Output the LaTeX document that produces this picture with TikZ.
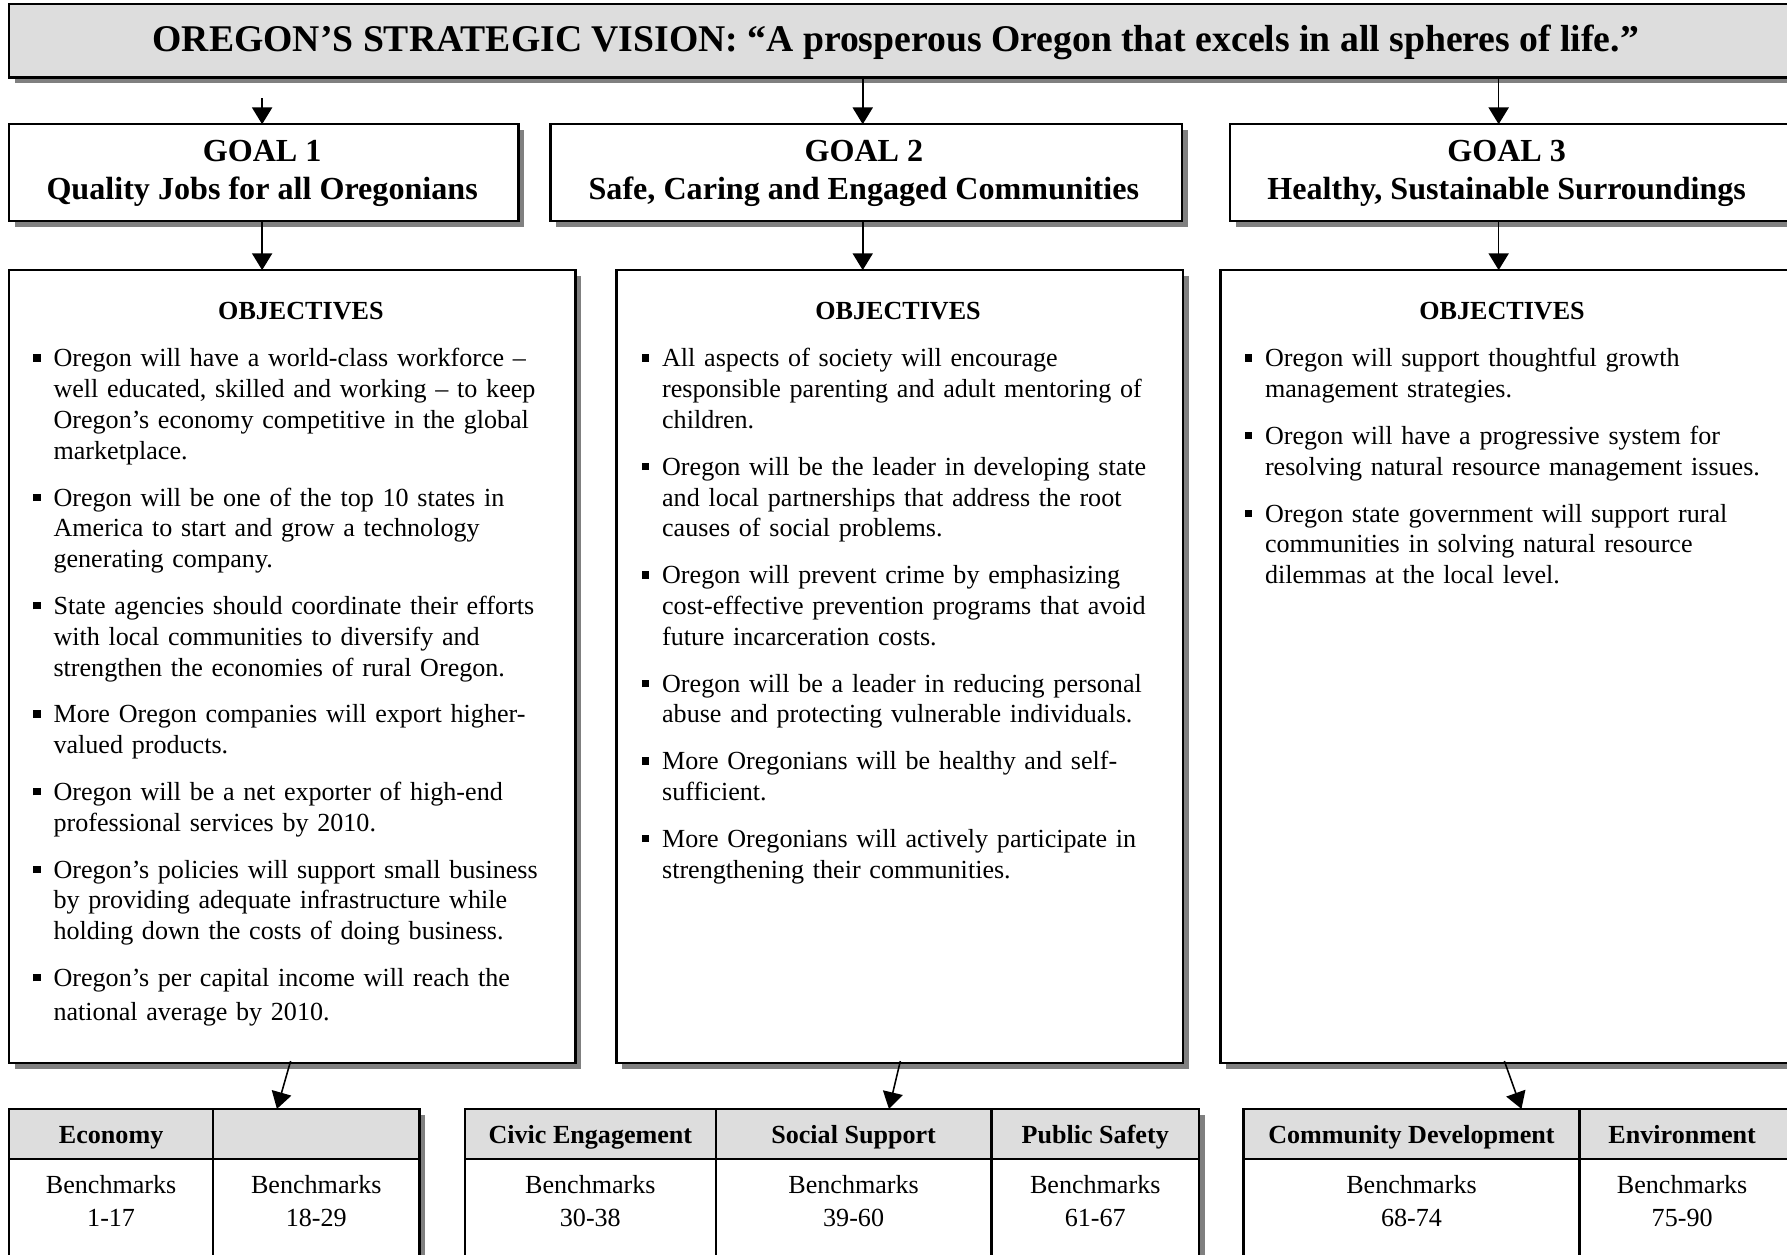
\documentclass[tikz,border=0pt]{standalone}
\usepackage{fontspec}
\setmainfont{Liberation Serif}
\usetikzlibrary{fit,shadows,arrows.meta}
\definecolor{hdrgray}{RGB}{221,221,221}
\definecolor{shgray}{RGB}{128,128,128}
\newcommand{\bsq}{\leavevmode\llap{\rule[2.3pt]{3.3pt}{3.3pt}\hspace{5.8pt}}}
\begin{document}
\begin{tikzpicture}[x=0.511pt,y=-0.511pt,
  every node/.style={inner sep=0pt,outer sep=0pt},
  sh/.style={drop shadow={shadow xshift=2.6pt,shadow yshift=-2.6pt,fill=shgray,opacity=1}},
  box/.style={draw,line width=1pt,fill=white,sh},
  arr/.style={line width=0.7pt,-{Triangle[length=7.5pt,width=9pt]}},
  goalt/.style={align=center,font=\fontsize{14.4}{17}\selectfont\bfseries},
  objt/.style={font=\fontsize{11.7}{14}\selectfont\bfseries},
  obj/.style={anchor=base west,text width=240pt,align=left,font=\fontsize{11.7}{13.8}\selectfont},
  hcell/.style={draw,line width=1pt,fill=hdrgray},
  htxt/.style={anchor=base,font=\fontsize{11.7}{14}\selectfont\bfseries},
  bcell/.style={draw,line width=1pt,fill=white},
  btxt/.style={align=center,font=\fontsize{11.7}{14.8}\selectfont}]
\useasboundingbox (0,0) rectangle (1568,1101);
\clip (0,0) rectangle (1568,1101);
\fill[white] (0,0) rectangle (1568,1101);

% header
\node[box,fill=hdrgray,fit={(8,3.5)(1572,68)}] (hdr) {};
\node[font=\fontsize{16.9}{20}\selectfont\bfseries] (hdrt) at (786,37)
  {OREGON’S STRATEGIC VISION: “A prosperous Oregon that excels in all spheres of life.”};

% goals
\node[box,fit={(8,109)(455,194)}] (g1) {};
\node[box,fit={(483,109)(1037,194)}] (g2) {};
\node[box,fit={(1079,109)(1572,194)}] (g3) {};
\node[goalt] (g1t) at (230,152.5) {GOAL 1\\Quality Jobs for all Oregonians};
\node[goalt] (g2t) at (758,152.5) {GOAL 2\\Safe, Caring and Engaged Communities};
\node[goalt] (g3t) at (1322,152.5) {GOAL 3\\Healthy, Sustainable Surroundings};

% objectives boxes
\node[box,fit={(8,237)(505,933)}] (o1) {};
\node[box,fit={(541,237)(1038,933)}] (o2) {};
\node[box,fit={(1071,237)(1572,933)}] (o3) {};

\node[objt] (ot1) at (264,273) {OBJECTIVES};
\node[objt] (ot2) at (788,273) {OBJECTIVES};
\node[objt] (ot3) at (1318,273) {OBJECTIVES};

\node[obj] (ob1) at (47,322) {%
\bsq Oregon will have a world-class workforce –\\
well educated, skilled and working – to keep\\
Oregon’s economy competitive in the global\\
marketplace.\\[7.2pt]
\bsq Oregon will be one of the top 10 states in\\
America to start and grow a technology\\
generating company.\\[7.2pt]
\bsq State agencies should coordinate their efforts\\
with local communities to diversify and\\
strengthen the economies of rural Oregon.\\[7.2pt]
\bsq More Oregon companies will export higher-\\
valued products.\\[7.2pt]
\bsq Oregon will be a net exporter of high-end\\
professional services by 2010.\\[7.2pt]
\bsq Oregon’s policies will support small business\\
by providing adequate infrastructure while\\
holding down the costs of doing business.\\[7.2pt]
\bsq Oregon’s per capital income will reach the\\[1.5pt]
national average by 2010.};

\node[obj] (ob2) at (581,322) {%
\bsq All aspects of society will encourage\\
responsible parenting and adult mentoring of\\
children.\\[7.2pt]
\bsq Oregon will be the leader in developing state\\
and local partnerships that address the root\\
causes of social problems.\\[7.2pt]
\bsq Oregon will prevent crime by emphasizing\\
cost-effective prevention programs that avoid\\
future incarceration costs.\\[7.2pt]
\bsq Oregon will be a leader in reducing personal\\
abuse and protecting vulnerable individuals.\\[7.2pt]
\bsq More Oregonians will be healthy and self-\\
sufficient.\\[7.2pt]
\bsq More Oregonians will actively participate in\\
strengthening their communities.};

\node[obj] (ob3) at (1110,322) {%
\bsq Oregon will support thoughtful growth\\
management strategies.\\[7.2pt]
\bsq Oregon will have a progressive system for\\
resolving natural resource management issues.\\[7.2pt]
\bsq Oregon state government will support rural\\
communities in solving natural resource\\
dilemmas at the local level.};

% tables
\node[box,fit={(8,973)(368,1140)}] (t1) {};
\node[hcell,fit={(8,973)(187,1017)}] (t1a) {};
\node[hcell,fit={(187,973)(368,1017)}] (t1b) {};
\node[bcell,fit={(8,1017)(187,1140)}] (t1c) {};
\node[bcell,fit={(187,1017)(368,1140)}] (t1d) {};
\node[htxt] (t1at) at (97.5,1003) {Economy};
\node[btxt] (t1e) at (97.5,1054) {Benchmarks\\1-17};
\node[btxt] (t1f) at (277.5,1054) {Benchmarks\\18-29};

\node[box,fit={(408,973)(1052,1140)}] (t2) {};
\node[hcell,fit={(408,973)(628,1017)}] (t2a) {};
\node[hcell,fit={(628,973)(870,1017)}] (t2b) {};
\node[hcell,fit={(870,973)(1052,1017)}] (t2c) {};
\node[bcell,fit={(408,1017)(628,1140)}] (t2d) {};
\node[bcell,fit={(628,1017)(870,1140)}] (t2e) {};
\node[bcell,fit={(870,1017)(1052,1140)}] (t2f) {};
\node[htxt] (t2at) at (518,1003) {Civic Engagement};
\node[htxt] (t2bt) at (749,1003) {Social Support};
\node[htxt] (t2ct) at (961,1003) {Public Safety};
\node[btxt] (t2g) at (518,1054) {Benchmarks\\30-38};
\node[btxt] (t2h) at (749,1054) {Benchmarks\\39-60};
\node[btxt] (t2i) at (961,1054) {Benchmarks\\61-67};

\node[box,fit={(1091,973)(1572,1140)}] (t3) {};
\node[hcell,fit={(1091,973)(1386,1017)}] (t3a) {};
\node[hcell,fit={(1386,973)(1572,1017)}] (t3b) {};
\node[bcell,fit={(1091,1017)(1386,1140)}] (t3c) {};
\node[bcell,fit={(1386,1017)(1572,1140)}] (t3d) {};
\node[htxt] (t3at) at (1238.5,1003) {Community Development};
\node[htxt] (t3bt) at (1476,1003) {Environment};
\node[btxt] (t3e) at (1238.5,1054) {Benchmarks\\68-74};
\node[btxt] (t3f) at (1476,1054) {Benchmarks\\75-90};

% connectors
\coordinate (c1) at (230,86);
\coordinate (c2) at (757,68);
\coordinate (c3) at (1315,68);
\draw[arr] (c1) -- (c1 |- g1.north);
\draw[arr] (hdr.south -| c2) -- (c2 |- g2.north);
\draw[arr] (hdr.south -| c3) -- (c3 |- g3.north);
\draw[arr] (g1.south -| c1) -- (c1 |- o1.north);
\draw[arr] (g2.south -| c2) -- (c2 |- o2.north);
\draw[arr] (g3.south -| c3) -- (c3 |- o3.north);

\coordinate (d1s) at (255,931);
\coordinate (d1e) at (243,973);
\coordinate (d2s) at (790,931);
\coordinate (d2e) at (780,973);
\coordinate (d3s) at (1320,931);
\coordinate (d3e) at (1335,973);
\draw[arr] (d1s) -- (d1e);
\draw[arr] (d2s) -- (d2e);
\draw[arr] (d3s) -- (d3e);
\end{tikzpicture}
\end{document}
